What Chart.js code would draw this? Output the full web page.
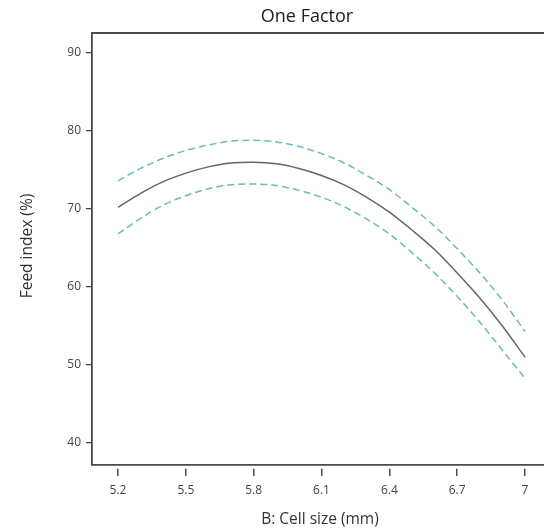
<!DOCTYPE html>
<html>
<head>
<meta charset="utf-8">
<script src="https://cdn.jsdelivr.net/npm/chart.js@4"></script>
<style>
  html, body { margin: 0; padding: 0; background: #fff; }
  #wrap { width: 544px; height: 531px; }
</style>
</head>
<body>
<div id="wrap"><canvas id="oneFactorChart" width="544" height="531"></canvas></div>
<script>
// Cell size (mm) sample points
const cellSize = [5.2, 5.3, 5.4, 5.5, 5.6, 5.7, 5.8, 5.9, 6.0, 6.1, 6.2, 6.3, 6.4, 6.5, 6.6, 6.7, 6.8, 6.9, 7.0];
// Predicted feed index (%)
const feedIndex = [70.2, 72.0, 73.5, 74.6, 75.4, 75.9, 76.0, 75.8, 75.2, 74.3, 73.1, 71.5, 69.6, 67.3, 64.8, 61.8, 58.6, 55.0, 51.0];
// 95% confidence band
const upperBand = [73.6, 75.2, 76.5, 77.5, 78.2, 78.7, 78.8, 78.6, 78.0, 77.1, 75.9, 74.3, 72.5, 70.2, 67.8, 64.9, 61.8, 58.3, 54.3];
const lowerBand = [66.8, 68.8, 70.5, 71.7, 72.6, 73.1, 73.2, 73.0, 72.4, 71.5, 70.3, 68.7, 66.8, 64.4, 61.8, 58.8, 55.5, 51.9, 48.3];
// Tick labels
const xTicks = [5.2, 5.5, 5.8, 6.1, 6.4, 6.7, 7];
const yTicks = [40, 50, 60, 70, 80, 90];

const toPoints = (ys) => cellSize.map((x, i) => ({ x: x, y: ys[i] }));

const axisColor = '#4a4a4a';
const fontFamily = '"Open Sans", "Noto Sans", sans-serif';

// Title, axis titles and top frame line
const decorPlugin = {
    id: 'decor',
    afterDraw(chart) {
        const ctx = chart.ctx;
        const area = chart.chartArea;
        ctx.save();
        ctx.strokeStyle = axisColor;
        ctx.lineWidth = 1.8;
        ctx.beginPath();
        ctx.moveTo(area.left, area.top);
        ctx.lineTo(area.right, area.top);
        ctx.stroke();

        ctx.fillStyle = '#222';
        ctx.textAlign = 'center';
        ctx.textBaseline = 'middle';
        ctx.font = '18px ' + fontFamily;
        ctx.fillText('One Factor', 307, 17);

        ctx.fillStyle = '#333';
        ctx.font = '15.5px ' + fontFamily;
        ctx.fillText('B: Cell size (mm)', 320, 520);

        ctx.translate(28, 246);
        ctx.rotate(-Math.PI / 2);
        ctx.fillText('Feed index (%)', 0, 0);
        ctx.restore();
    }
};

const lineStyle = {
    pointRadius: 0,
    borderWidth: 1.5,
    cubicInterpolationMode: 'monotone'
};

new Chart(document.getElementById('oneFactorChart'), {
    type: 'line',
    data: {
        datasets: [
            {
                ...lineStyle,
                label: 'Feed index',
                data: toPoints(feedIndex),
                borderColor: '#656565'
            },
            {
                ...lineStyle,
                label: 'Upper 95% CI',
                data: toPoints(upperBand),
                borderColor: '#6dbab5',
                borderDash: [7, 4]
            },
            {
                ...lineStyle,
                label: 'Lower 95% CI',
                data: toPoints(lowerBand),
                borderColor: '#6dbab5',
                borderDash: [7, 4]
            }
        ]
    },
    options: {
        responsive: false,
        animation: false,
        layout: { padding: { top: 33, right: 0, left: 0, bottom: 0 } },
        plugins: {
            legend: { display: false },
            title: { display: false },
            tooltip: { enabled: false }
        },
        scales: {
            x: {
                type: 'linear',
                min: 5.085,
                max: 7.084,
                afterBuildTicks: (scale) => { scale.ticks = xTicks.map(v => ({ value: v })); },
                afterFit: (scale) => { scale.height = 66; scale.paddingRight = 0; scale.paddingLeft = 0; },
                border: { display: true, color: axisColor, width: 1.8 },
                grid: {
                    drawOnChartArea: false,
                    color: axisColor,
                    lineWidth: 1.5,
                    tickLength: 11,
                    tickBorderDash: [0, 3, 8, 20]
                },
                ticks: {
                    color: '#444',
                    font: { family: fontFamily, size: 12 },
                    padding: 7,
                    maxRotation: 0,
                    autoSkip: false,
                    callback: (v) => String(v)
                }
            },
            y: {
                type: 'linear',
                min: 37.18,
                max: 92.56,
                afterBuildTicks: (scale) => { scale.ticks = yTicks.map(v => ({ value: v })); },
                afterFit: (scale) => { scale.width = 92; },
                border: { display: true, color: axisColor, width: 1.8 },
                grid: {
                    drawOnChartArea: false,
                    color: axisColor,
                    lineWidth: 1.3,
                    tickLength: 6
                },
                ticks: {
                    color: '#444',
                    font: { family: fontFamily, size: 12 },
                    padding: 5
                }
            }
        }
    },
    plugins: [decorPlugin]
});
</script>
</body>
</html>
